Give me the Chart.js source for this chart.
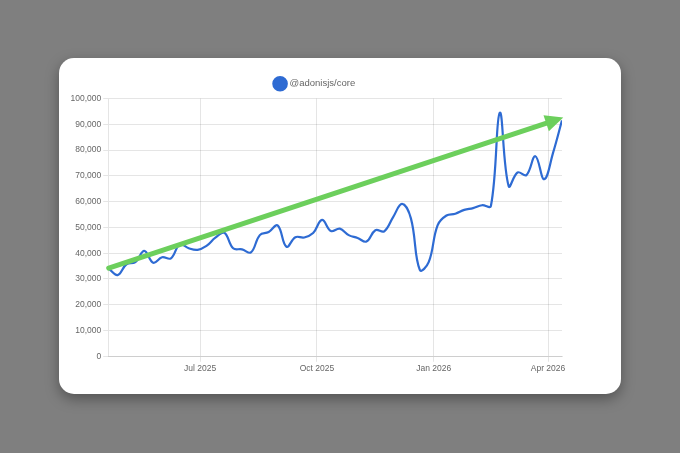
<!DOCTYPE html>
<html>
<head>
<meta charset="utf-8">
<script src="https://cdn.jsdelivr.net/npm/chart.js@4"></script>
<style>
  html, body { margin: 0; padding: 0; }
  body { width: 680px; height: 453px; background: #7f7f7f; position: relative; overflow: hidden; }
  #card {
    position: absolute; left: 59px; top: 58px; width: 562px; height: 336px;
    background: #fff; border-radius: 15px;
    box-shadow: 0 5px 14px rgba(0, 0, 0, 0.35);
  }
  #card canvas { display: block; }
</style>
</head>
<body>
<div id="card"><canvas id="chart"></canvas></div>
<script>
// weekly downloads, @adonisjs/core
const weeks = [
  '2025-04-20', '2025-04-27', '2025-05-04', '2025-05-11', '2025-05-18', '2025-05-25',
  '2025-06-01', '2025-06-08', '2025-06-15', '2025-06-22', '2025-06-29',
  '2025-07-06', '2025-07-13', '2025-07-20', '2025-07-27',
  '2025-08-03', '2025-08-10', '2025-08-17', '2025-08-24', '2025-08-31',
  '2025-09-07', '2025-09-14', '2025-09-21', '2025-09-28',
  '2025-10-05', '2025-10-12', '2025-10-19', '2025-10-26',
  '2025-11-02', '2025-11-09', '2025-11-16', '2025-11-23', '2025-11-30',
  '2025-12-07', '2025-12-14', '2025-12-21', '2025-12-28',
  '2026-01-04', '2026-01-11', '2026-01-18', '2026-01-25',
  '2026-02-01', '2026-02-08', '2026-02-15', '2026-02-22',
  '2026-03-01', '2026-03-08', '2026-03-15', '2026-03-22', '2026-03-29',
  '2026-04-05', '2026-04-12'
];
const downloads = [
  34000, 31500, 35700, 36500, 40900, 36300, 38400, 38000, 43400, 41900,
  41300, 42800, 46000, 47900, 41900, 41500, 40300, 47000, 48200, 50800,
  42500, 46200, 46100, 47800, 52900, 48600, 49500, 47000, 45900, 44500,
  48900, 48500, 54000, 59100, 53500, 33500, 36500, 50800, 54600, 55300,
  56800, 57500, 58600, 58300, 94500, 66000, 71300, 70300, 77600, 68700,
  79000, 91500
];
const tickDates = ['2025-07-01', '2025-10-01', '2026-01-01', '2026-04-01'];
const tickLabels = ['Jul 2025', 'Oct 2025', 'Jan 2026', 'Apr 2026'];
// trend arrow drawn on top: [date, value] start and tip
const trendFrom = ['2025-04-20', 34200];
const trendTo = ['2026-04-13', 92600];

const DAY = 86400000;
const dayNum = (s) => Date.parse(s + 'T00:00:00Z') / DAY;

const blue = '#2e6bd3';
const green = '#6ccf5c';

const trendArrow = {
  id: 'trendArrow',
  afterDatasetsDraw(chart) {
    const x = chart.scales.x, y = chart.scales.y, ctx = chart.ctx;
    const x0 = x.getPixelForValue(dayNum(trendFrom[0])), y0 = y.getPixelForValue(trendFrom[1]);
    const x1 = x.getPixelForValue(dayNum(trendTo[0])), y1 = y.getPixelForValue(trendTo[1]);
    const ang = Math.atan2(y1 - y0, x1 - x0);
    const head = 18, half = 8.5;
    const bx = x1 - head * Math.cos(ang), by = y1 - head * Math.sin(ang);
    ctx.save();
    ctx.strokeStyle = green;
    ctx.fillStyle = green;
    ctx.lineWidth = 5;
    ctx.lineCap = 'round';
    ctx.beginPath();
    ctx.moveTo(x0, y0);
    ctx.lineTo(bx + 2 * Math.cos(ang), by + 2 * Math.sin(ang));
    ctx.stroke();
    ctx.beginPath();
    ctx.moveTo(x1, y1);
    ctx.lineTo(bx + half * Math.sin(ang), by - half * Math.cos(ang));
    ctx.lineTo(bx - half * Math.sin(ang), by + half * Math.cos(ang));
    ctx.closePath();
    ctx.fill();
    ctx.restore();
  }
};

Chart.defaults.font.family = "'Liberation Sans', Arial, sans-serif";
Chart.defaults.color = '#666';

const ctx = document.getElementById('chart').getContext('2d');
const chart = new Chart(ctx, {
  type: 'line',
  data: {
    datasets: [{
      label: '@adonisjs/core',
      data: weeks.map((w, i) => ({ x: dayNum(w), y: downloads[i] })),
      borderColor: blue,
      backgroundColor: blue,
      borderWidth: 2.2,
      pointRadius: 0,
      tension: 0.4,
      fill: false
    }]
  },
  options: {
    responsive: true,
    maintainAspectRatio: false,
    animation: false,
    layout: { padding: { top: 14, left: 9.5, right: 59, bottom: 18 } },
    plugins: {
      legend: {
        labels: { usePointStyle: true, font: { size: 9.5 }, padding: 7 }
      },
      tooltip: { enabled: false }
    },
    scales: {
      x: {
        type: 'linear',
        min: dayNum(weeks[0]),
        max: dayNum(weeks[weeks.length - 1]),
        afterBuildTicks: (axis) => {
          axis.ticks = tickDates.map(d => ({ value: dayNum(d) }));
        },
        ticks: {
          font: { size: 8.5 },
          padding: 2,
          maxRotation: 0,
          callback: (v) => {
            const i = tickDates.findIndex(d => dayNum(d) === v);
            return i >= 0 ? tickLabels[i] : '';
          }
        },
        grid: { tickLength: 5.5 }
      },
      y: {
        min: 0,
        max: 100000,
        ticks: { stepSize: 10000, font: { size: 8.5 }, padding: 2 },
        grid: { tickLength: 5.5 }
      }
    }
  },
  plugins: [trendArrow]
});
</script>
</body>
</html>
